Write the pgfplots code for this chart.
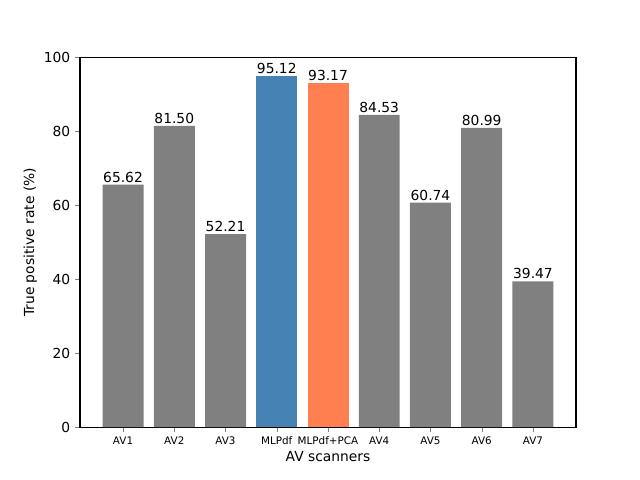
\documentclass[border=0pt]{standalone}
\usepackage{pgfplots}
\pgfplotsset{compat=1.18}
\usepackage{fontspec}
\setmainfont{DejaVu Sans}
\definecolor{avgray}{HTML}{808080}
\definecolor{steel}{HTML}{4682B4}
\definecolor{coral}{HTML}{FF7F50}
\begin{document}
\begin{tikzpicture}
\path[use as bounding box] (0,0) rectangle (6.4in,4.8in);
\begin{axis}[
  at={(0.8in,0.528in)}, anchor=south west,
  scale only axis, width=4.96in, height=3.696in,
  xmin=-0.84, xmax=8.84, ymin=0, ymax=100,
  xtick={0,...,8},
  xticklabels={AV1,AV2,AV3,MLPdf,MLPdf+PCA,AV4,AV5,AV6,AV7},
  ytick={0,20,...,100},
  x tick label style={font=\fontsize{7.5}{9}\selectfont},
  y tick label style={font=\fontsize{10}{12}\selectfont},
  /pgf/number format/assume math mode=true,
  tick align=outside, tick pos=left,
  major tick length=3.5pt,
  xlabel={AV scanners}, ylabel={True positive rate (\%)},
  label style={font=\fontsize{10}{12}\selectfont},
  xlabel style={yshift=2pt},
  ylabel style={yshift=-2pt},
  ybar, bar width=0.8, bar shift=0pt,
  nodes near coords, point meta=explicit symbolic,
  every node near coord/.append style={font=\fontsize{10}{12}\selectfont, inner sep=1.5pt, black},
  axis line style={line width=0.8pt},
]
\addplot[fill=avgray, draw=none] coordinates {(0,65.62)[65.62] (1,81.50)[81.50] (2,52.21)[52.21] (5,84.53)[84.53] (6,60.74)[60.74] (7,80.99)[80.99] (8,39.47)[39.47]};
\addplot[fill=steel, draw=none] coordinates {(3,95.12)[95.12]};
\addplot[fill=coral, draw=none] coordinates {(4,93.17)[93.17]};
\end{axis}
\end{tikzpicture}
\end{document}
